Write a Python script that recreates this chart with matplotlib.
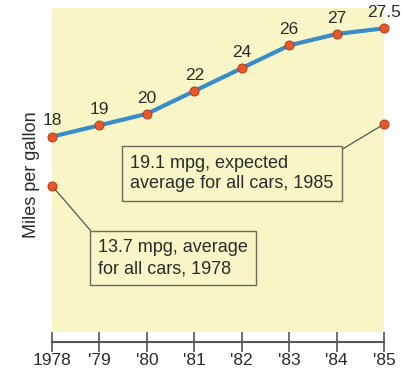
import matplotlib
matplotlib.use("Agg")
import matplotlib.pyplot as plt

plt.rcParams['font.family'] = ['Liberation Sans', 'DejaVu Sans']

# Fuel economy standard for new cars, miles per gallon
years = [1978, 1979, 1980, 1981, 1982, 1983, 1984, 1985]
tick_labels = ['1978', "'79", "'80", "'81", "'82", "'83", "'84", "'85"]
standard_mpg = [18, 19, 20, 22, 24, 26, 27, 27.5]
value_labels = ['18', '19', '20', '22', '24', '26', '27', '27.5']

# Fleet averages called out in the boxes
avg_1978 = 13.7
avg_1985 = 19.1
note_1978 = "13.7 mpg, average\nfor all cars, 1978"
note_1985 = "19.1 mpg, expected\naverage for all cars, 1985"

PANEL = '#f8f6c6'
LINE = '#3a8cc8'
DOT = '#e8562a'
DOT_EDGE = '#b53a18'
TEXT = '#2b2b2b'
AXIS = '#555555'

fig = plt.figure(figsize=(4.02, 3.75), dpi=100)
fig.patch.set_facecolor('white')
ax = fig.add_axes([52 / 402, 33 / 375, 332 / 402, 334 / 375])
ax.set_facecolor('white')
ax.set_xlim(1978, 1985)
ax.set_ylim(0, 29.28)

# shaded plotting panel above the time axis
ax.axhspan(0.87, 29.28, color=PANEL, zorder=0, lw=0)

ax.plot(years, standard_mpg, color=LINE, lw=3, zorder=3, clip_on=False,
        solid_capstyle='round')
ax.plot(years, standard_mpg, 'o', color=DOT, mec=DOT_EDGE, mew=0.7, ms=6.5,
        zorder=4, clip_on=False)
for x, y, s in zip(years, standard_mpg, value_labels):
    ax.annotate(s, (x, y), xytext=(0, 6), textcoords='offset points',
                ha='center', va='bottom', fontsize=12.5, color=TEXT)

ax.plot([years[0], years[-1]], [avg_1978, avg_1985], 'o', color=DOT,
        mec=DOT_EDGE, mew=0.7, ms=6.5, zorder=4, clip_on=False, ls='none')

box = dict(boxstyle='square,pad=0.45', fc=PANEL, ec='#6a6a5a', lw=1.0)
ax.annotate(note_1985, xy=(years[-1], avg_1985), xytext=(1979.645, 16.43),
            textcoords='data', ha='left', va='top', fontsize=13,
            linespacing=1.3, color=TEXT, bbox=box, zorder=5,
            arrowprops=dict(arrowstyle='-', color='#555555', lw=0.9,
                            relpos=(1, 1), shrinkA=0, shrinkB=3))
ax.annotate(note_1978, xy=(years[0], avg_1978), xytext=(1978.97, 9.0),
            textcoords='data', ha='left', va='top', fontsize=13,
            linespacing=1.3, color=TEXT, bbox=box, zorder=5,
            arrowprops=dict(arrowstyle='-', color='#555555', lw=0.9,
                            relpos=(0, 1), shrinkA=0, shrinkB=3))

for side in ['top', 'right', 'left']:
    ax.spines[side].set_visible(False)
ax.spines['bottom'].set_color(AXIS)
ax.spines['bottom'].set_linewidth(1.5)
ax.set_xticks(years)
ax.set_xticklabels(tick_labels)
ax.tick_params(axis='x', direction='inout', length=14.5, width=1.2,
               color=AXIS, labelsize=12.5, labelcolor=TEXT, pad=1)
ax.set_yticks([])
ax.set_ylabel('Miles per gallon', fontsize=13, color=TEXT)
ax.yaxis.set_label_coords(-0.035, 0.5)

fig.savefig('out.png', dpi=100, facecolor='white')
